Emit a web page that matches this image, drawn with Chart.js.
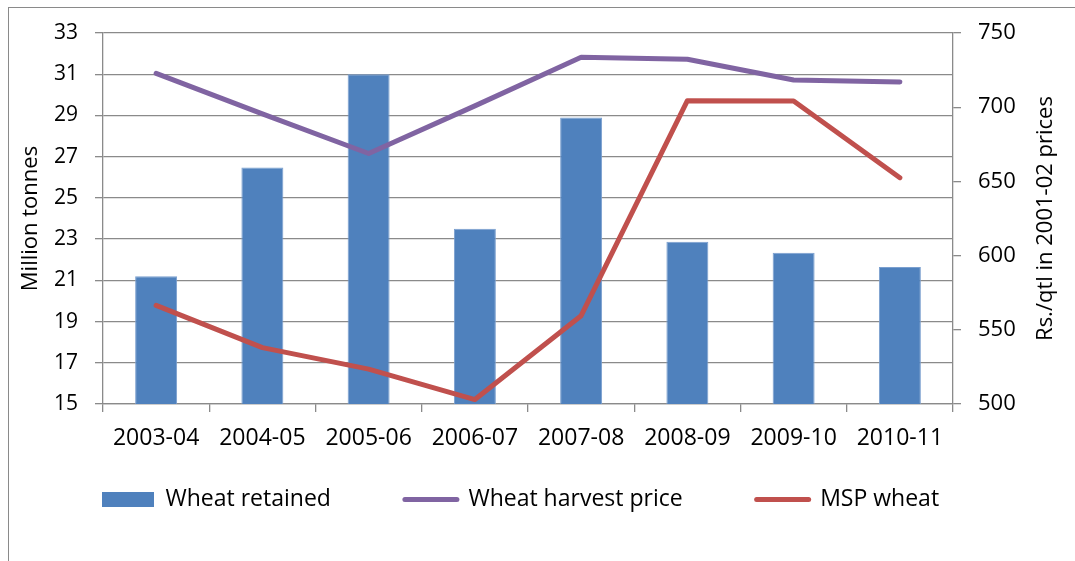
<!DOCTYPE html>
<html>
<head>
<meta charset="utf-8">
<script src="https://cdn.jsdelivr.net/npm/chart.js@4.4.1/dist/chart.umd.min.js"></script>
<style>
  html, body { margin: 0; padding: 0; background: #fff; overflow: hidden; }
  #wrap  { position: relative; width: 1075px; height: 561px; }
  #frame { position: absolute; left: 8px; top: 7px; width: 1200px; height: 700px;
           border: 1px solid #8a8a8a; box-sizing: border-box; }
  canvas { position: absolute; left: 0; top: 0; }
</style>
</head>
<body>
<div id="wrap">
  <div id="frame"></div>
  <canvas id="chart" width="1075" height="561"></canvas>
</div>
<script>
// ── DATA ───────────────────────────────────────────────────────────────────

const YEARS          = ['2003-04', '2004-05', '2005-06', '2006-07', '2007-08', '2008-09', '2009-10', '2010-11'];
const WHEAT_RETAINED = [21.2, 26.47, 31.0, 23.5, 28.9, 22.87, 22.34, 21.65];   // million tonnes
const HARVEST_PRICE  = [722.8, 695.5, 668.8, 700.9, 733.6, 732.3, 718.3, 717.0]; // Rs./qtl
const MSP_WHEAT      = [566.5, 538.0, 523.5, 503.0, 559.5, 704.4, 704.2, 652.5]; // Rs./qtl

const LEFT_TICKS  = { min: 15,  max: 33,  step: 2 };
const RIGHT_TICKS = { min: 500, max: 750, step: 50 };

const LEFT_TITLE  = 'Million tonnes';
const RIGHT_TITLE = 'Rs./qtl in 2001-02 prices';

// ── STYLE ──────────────────────────────────────────────────────────────────

const FONT   = '"Open Sans", "Liberation Sans", sans-serif';
const GRID   = '#8a8a8a';
const BLUE   = '#4F81BD';
const PURPLE = '#8064A2';
const RED    = '#C0504D';

const X_AXIS_H   = 50;   // room for the category labels (they are clipped to the scale box)
const LEGEND_GAP = 10;   // legend box starts this far below the plot

// Excel draws the secondary axis title bottom-to-top, Chart.js can't, so draw it here
const rightTitle = {
  id: 'rightTitle',
  afterDraw(chart) {
    const { ctx, chartArea } = chart;
    const s = chart.scales.y1;
    ctx.save();
    ctx.translate(s.right - 29, (chartArea.top + chartArea.bottom) / 2);
    ctx.rotate(-Math.PI / 2);
    ctx.font = `22px ${FONT}`;
    ctx.fillStyle = '#000';
    ctx.textAlign = 'center';
    ctx.textBaseline = 'middle';
    ctx.fillText(RIGHT_TITLE, 0, 0);
    ctx.restore();
  },
};

// The big label padding (spacing between items) also pushes the row down,
// so pull the legend box up under the axis labels
const legendLift = {
  id: 'legendLift',
  afterLayout(chart) {
    const lg = chart.legend;
    if (!lg) return;
    const h = lg.bottom - lg.top;
    lg.top = chart.chartArea.bottom + LEGEND_GAP;
    lg.bottom = lg.top + h;
  },
};

// ── CHART ──────────────────────────────────────────────────────────────────

const lineStyle = {
  type: 'line',
  yAxisID: 'y1',
  borderWidth: 5,
  borderCapStyle: 'round',
  borderJoinStyle: 'round',
  pointRadius: 0,
  tension: 0,
  fill: false,
};

new Chart(document.getElementById('chart'), {
  type: 'bar',
  data: {
    labels: YEARS,
    datasets: [
      {
        label: 'Wheat retained',
        data: WHEAT_RETAINED,
        yAxisID: 'y',
        backgroundColor: BLUE,
        borderColor: '#7a9fcf',
        borderWidth: 1,
        barPercentage: 0.395,
        categoryPercentage: 1,
        order: 3,
      },
      { ...lineStyle, label: 'Wheat harvest price', data: HARVEST_PRICE, borderColor: PURPLE, backgroundColor: PURPLE, order: 2 },
      { ...lineStyle, label: 'MSP wheat',           data: MSP_WHEAT,     borderColor: RED,    backgroundColor: RED,    order: 1 },
    ],
  },
  options: {
    responsive: false,
    animation: false,
    devicePixelRatio: 1,
    layout: { padding: { left: 28, right: 0, top: 33, bottom: 0 } },
    plugins: {
      tooltip: { enabled: false },
      legend: {
        position: 'bottom',
        align: 'start',
        labels: {
          color: '#000',
          font: { family: FONT, size: 23 },
          usePointStyle: true,
          pointStyleWidth: 52,
          boxHeight: 15,
          padding: 74,
          sort: (a, b) => a.datasetIndex - b.datasetIndex,
          generateLabels: chart => {
            const items = Chart.defaults.plugins.legend.labels.generateLabels(chart);
            return items.map(it => {
              const ds = chart.data.datasets[it.datasetIndex];
              const isBar = ds.type !== 'line';
              return {
                ...it,
                pointStyle: isBar ? 'rect' : 'line',
                fillStyle:  isBar ? BLUE : ds.borderColor,
                strokeStyle: isBar ? BLUE : ds.borderColor,
                lineWidth: isBar ? 0 : 5,
                lineCap: 'round',
              };
            });
          },
        },
      },
    },
    scales: {
      x: {
        offset: true,
        afterFit: s => { s.height = X_AXIS_H; },
        grid:   { drawOnChartArea: false, drawTicks: true, tickLength: 8, color: GRID, lineWidth: 1.3, offset: true },
        border: { color: GRID, width: 1.3 },
        ticks:  { color: '#000', font: { family: FONT, size: 23 }, padding: 13, maxRotation: 0 },
      },
      y: {
        position: 'left',
        min: LEFT_TICKS.min,
        max: LEFT_TICKS.max,
        afterFit: s => { s.width = 75; },
        grid:   { color: GRID, lineWidth: 1.3, tickLength: 8 },
        border: { color: GRID, width: 1.3 },
        ticks:  { stepSize: LEFT_TICKS.step, color: '#000', font: { family: FONT, size: 21 }, padding: 17 },
        title: {
          display: true,
          text: LEFT_TITLE,
          color: '#000',
          font: { family: FONT, size: 22, lineHeight: 1 },
          padding: { top: -8, bottom: 0 },
        },
      },
      y1: {
        position: 'right',
        min: RIGHT_TICKS.min,
        max: RIGHT_TICKS.max,
        afterFit: s => { s.width = 122; },
        grid:   { drawOnChartArea: false, color: GRID, lineWidth: 1.3, tickLength: 8 },
        border: { color: GRID, width: 1.3 },
        ticks:  { stepSize: RIGHT_TICKS.step, color: '#000', font: { family: FONT, size: 22 }, padding: 17 },
      },
    },
  },
  plugins: [rightTitle, legendLift],
});
</script>
</body>
</html>
